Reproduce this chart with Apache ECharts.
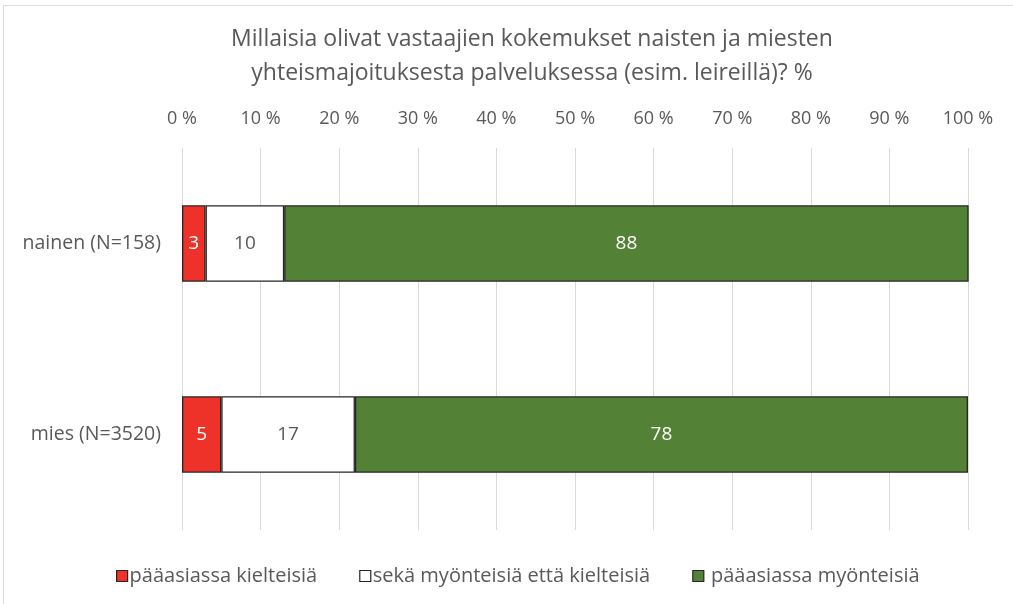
<!DOCTYPE html>
<html>
<head>
<meta charset="utf-8">
<script src="https://cdn.jsdelivr.net/npm/echarts@6/dist/echarts.min.js"></script>
<style>
  html, body { margin: 0; padding: 0; background: #fff; }
  #chart { width: 1013px; height: 604px; }
</style>
</head>
<body>
<div id="chart"></div>
<script>
var categories = ['nainen (N=158)', 'mies (N=3520)'];
var seriesNames = ['pääasiassa kielteisiä', 'sekä myönteisiä että kielteisiä', 'pääasiassa myönteisiä'];
var kielteisia = [3, 5];
var molemmat = [10, 17];
var myonteisia = [88, 78];
var tickLabels = ['0 %', '10 %', '20 %', '30 %', '40 %', '50 %', '60 %', '70 %', '80 %', '90 %', '100 %'];

var font = 'Open Sans';
var textColor = '#595959';
var edge = '#262626';

function makeSeries(name, data, color, labelColor) {
    return {
        name: name,
        type: 'bar',
        stack: 'total',
        data: data,
        barCategoryGap: '60%',
        itemStyle: { color: color, borderColor: edge, borderWidth: 1.3 },
        label: {
            show: true,
            position: 'inside',
            color: labelColor,
            fontFamily: font,
            fontSize: 19
        }
    };
}

var chart = echarts.init(document.getElementById('chart'));
chart.setOption({
    animation: false,
    title: {
        text: 'Millaisia olivat vastaajien kokemukset naisten ja miesten\nyhteismajoituksesta palveluksessa (esim. leireillä)? %',
        left: 527,
        top: 17,
        textAlign: 'center',
        textStyle: { color: textColor, fontFamily: font, fontSize: 23, fontWeight: 'normal', lineHeight: 34 }
    },
    graphic: [{
        type: 'rect',
        shape: { x: 3.5, y: 5.5, width: 1030, height: 620 },
        style: { fill: 'none', stroke: '#d9d9d9', lineWidth: 1 },
        silent: true
    }],
    legend: {
        bottom: 13,
        left: 111,
        icon: 'rect',
        itemWidth: 11,
        itemHeight: 11,
        itemGap: 42,
        data: seriesNames,
        // the last entry has a space before its text in the original
        formatter: function (name) { return name === seriesNames[2] ? ' ' + name : name; },
        itemStyle: { borderColor: edge, borderWidth: 1.2 },
        textStyle: { color: textColor, fontFamily: font, fontSize: 20, padding: [0, 0, 0, -3] }
    },
    grid: { left: 182, right: 45, top: 148, bottom: 74, containLabel: false },
    xAxis: {
        type: 'value',
        position: 'top',
        min: 0,
        max: 100,
        interval: 10,
        axisLine: { show: false },
        axisTick: { show: false },
        axisLabel: {
            color: textColor,
            fontFamily: font,
            fontSize: 18,
            margin: 20,
            formatter: function (v) { return tickLabels[Math.round(v / 10)]; }
        },
        splitLine: { lineStyle: { color: '#d9d9d9', width: 1 } }
    },
    yAxis: {
        type: 'category',
        inverse: true,
        data: categories,
        axisLine: { show: false },
        axisTick: { show: false },
        axisLabel: { color: textColor, fontFamily: font, fontSize: 19.5, margin: 21 }
    },
    series: [
        makeSeries(seriesNames[0], kielteisia, '#ee3129', '#ffffff'),
        makeSeries(seriesNames[1], molemmat, '#ffffff', textColor),
        makeSeries(seriesNames[2], myonteisia, '#538135', '#ffffff')
    ]
});
</script>
</body>
</html>
